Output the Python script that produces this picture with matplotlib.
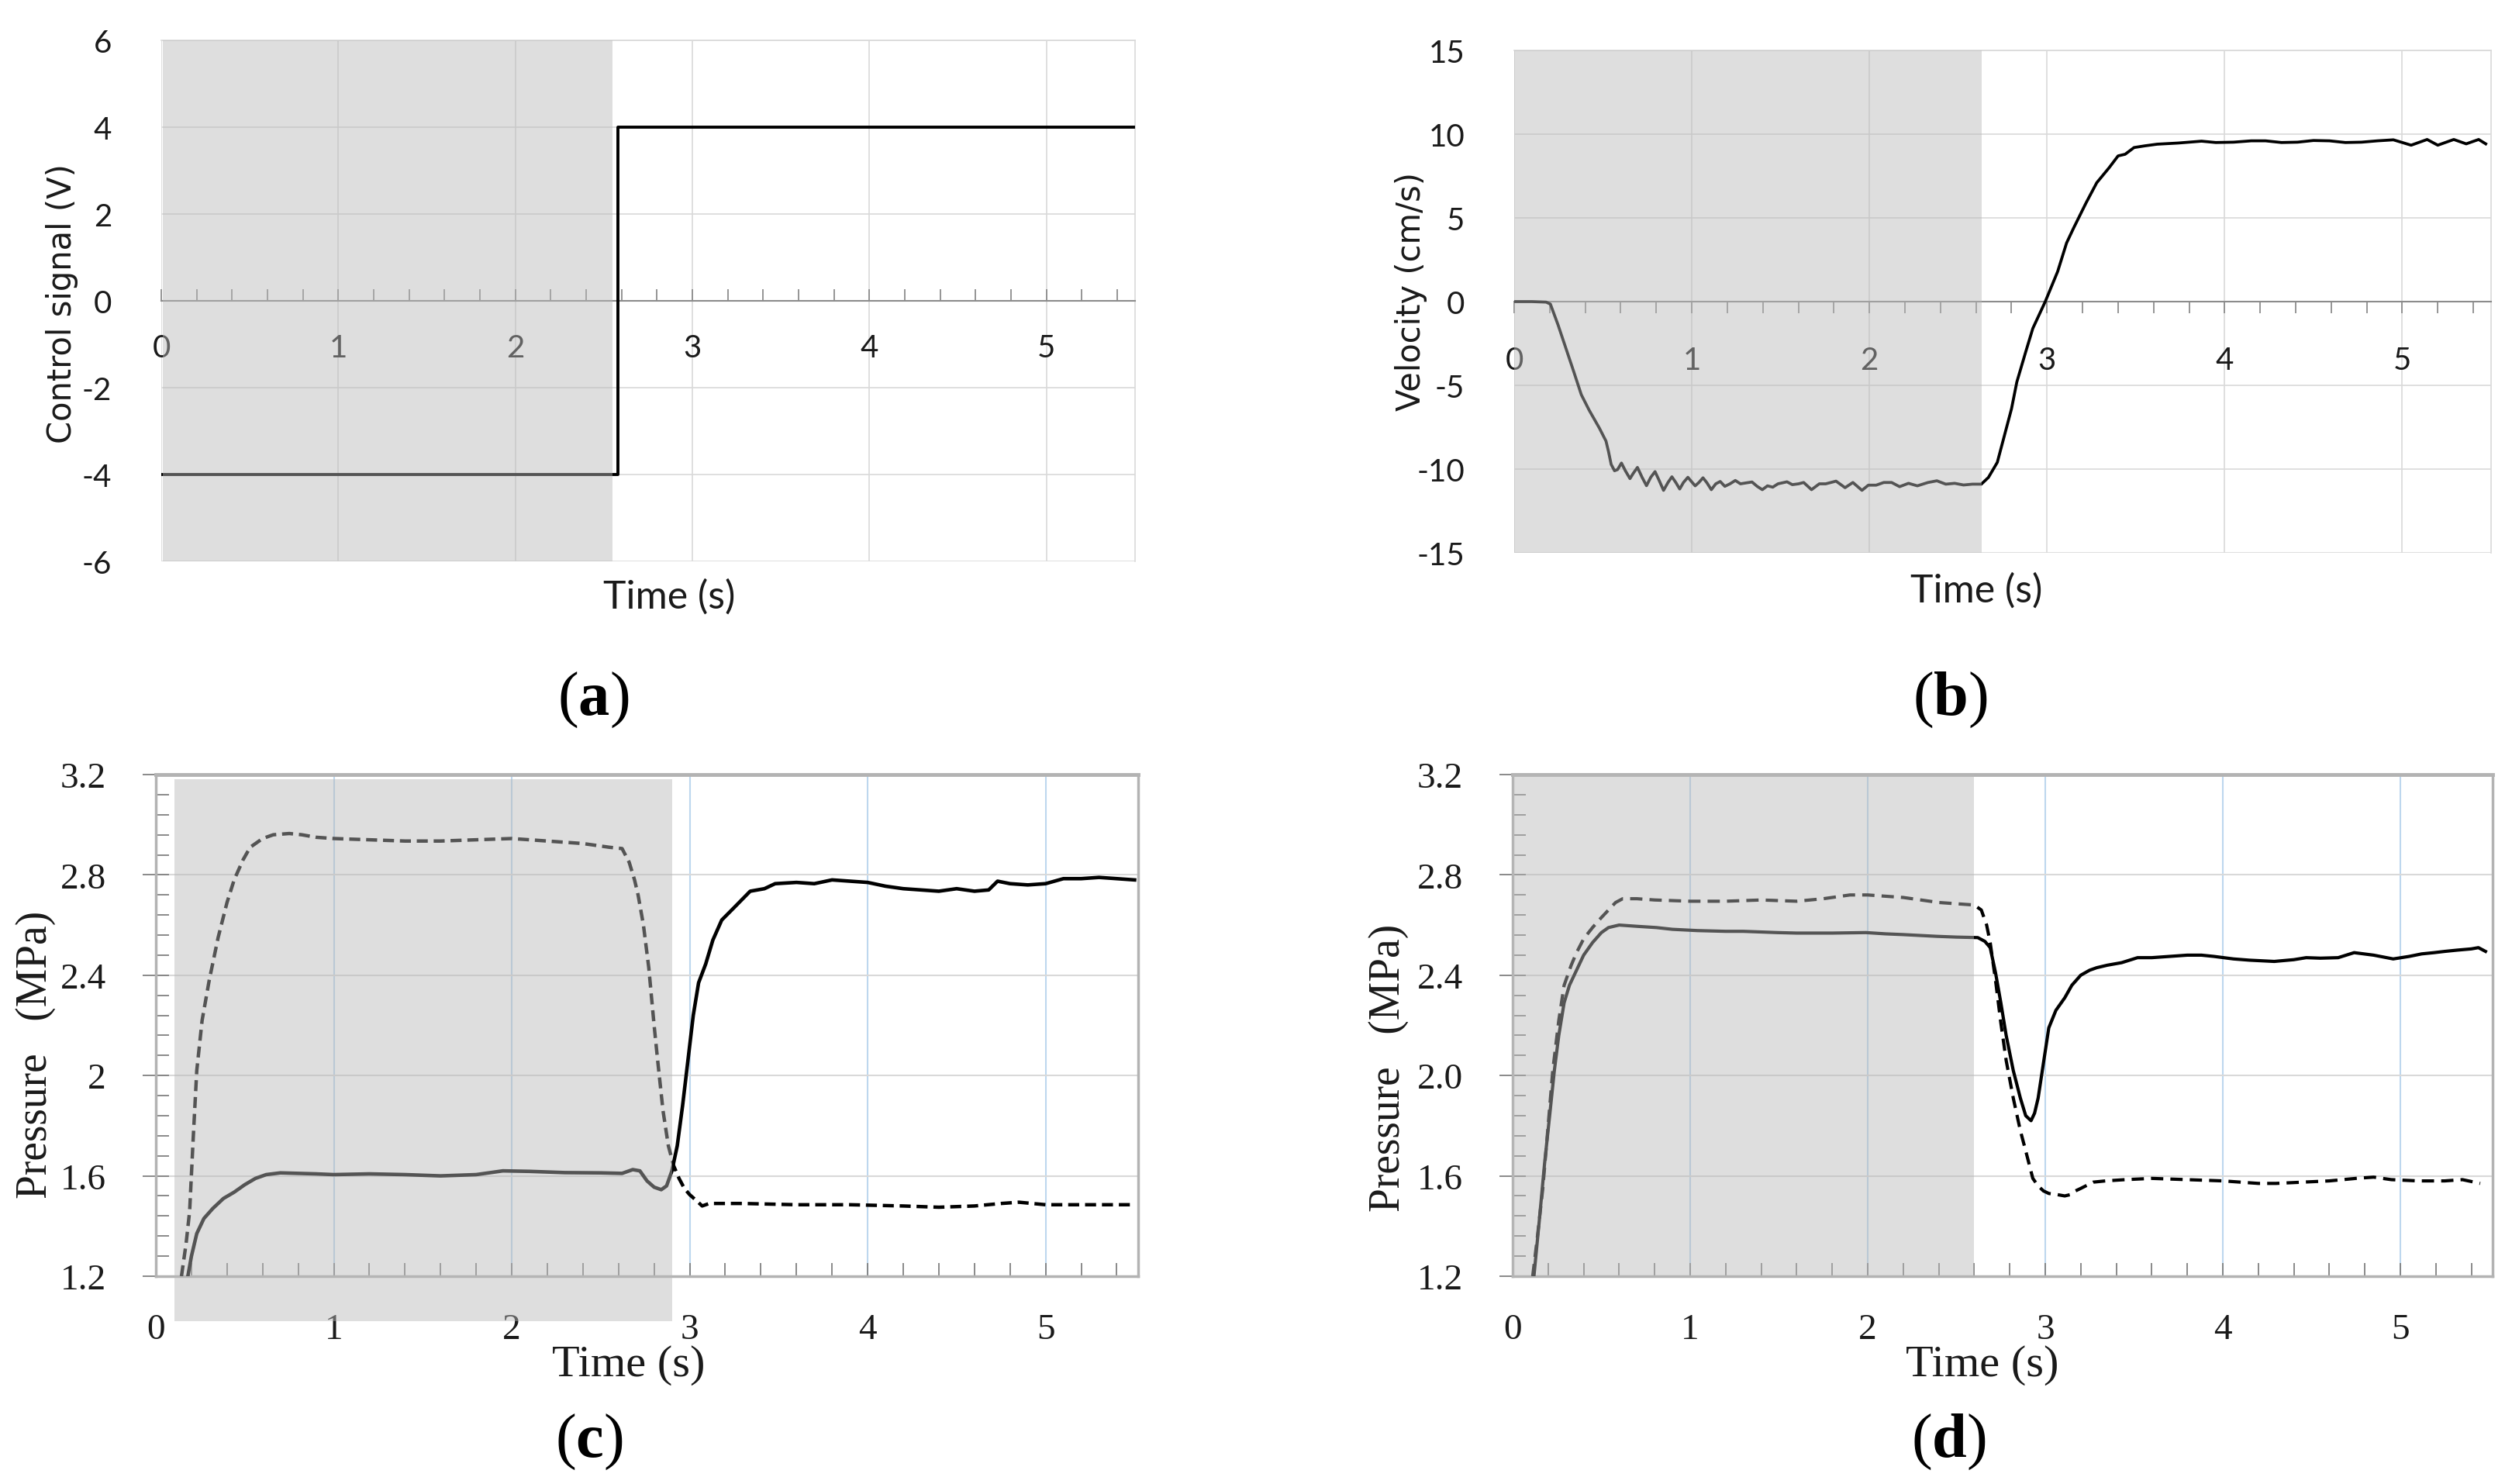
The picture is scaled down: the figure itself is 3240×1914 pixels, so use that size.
import matplotlib
matplotlib.use("Agg")
import matplotlib.pyplot as plt
from matplotlib.patches import Rectangle
from matplotlib.ticker import MultipleLocator

# ---- data ----
# (a) control signal
t_ctrl = [0.0, 2.58, 2.58, 5.49]
u_ctrl = [-4.0, -4.0, 4.0, 4.0]

# (b) velocity
t_vel = [0.0, 0.1, 0.18, 0.204, 0.247, 0.291, 0.335, 0.378, 0.422, 0.48, 0.517, 0.531,
         0.546, 0.565, 0.582, 0.604, 0.626, 0.652, 0.67, 0.694, 0.72, 0.745, 0.769, 0.793,
         0.815, 0.841, 0.866, 0.888, 0.91, 0.932, 0.953, 0.978, 0.997, 1.019, 1.04, 1.063,
         1.084, 1.11, 1.135, 1.16, 1.186, 1.215, 1.245, 1.274, 1.303, 1.339, 1.368, 1.397,
         1.426, 1.456, 1.485, 1.536, 1.566, 1.601, 1.63, 1.674, 1.718, 1.754, 1.812, 1.863,
         1.907, 1.958, 1.994, 2.038, 2.081, 2.125, 2.17, 2.22, 2.27, 2.33, 2.38, 2.43, 2.48,
         2.53, 2.58, 2.63, 2.67, 2.72, 2.76, 2.80, 2.83, 2.88, 2.92, 2.99, 3.06, 3.11, 3.15,
         3.22, 3.28, 3.35, 3.40, 3.44, 3.49, 3.55, 3.62, 3.74, 3.87, 3.95, 4.05, 4.15, 4.23,
         4.32, 4.41, 4.5, 4.59, 4.68, 4.77, 4.86, 4.95, 5.05, 5.14, 5.2, 5.29, 5.36, 5.43, 5.47]
v_vel = [0.0, 0.0, -0.03, -0.15, -1.39, -2.78, -4.17, -5.56, -6.48, -7.56, -8.33, -8.95,
         -9.72, -10.1, -10.03, -9.64, -10.1, -10.57, -10.26, -9.9, -10.49, -10.99, -10.49, -10.15,
         -10.65, -11.27, -10.8, -10.46, -10.8, -11.19, -10.8, -10.49, -10.73, -11.0, -10.8, -10.52,
         -10.8, -11.23, -10.88, -10.74, -11.03, -10.88, -10.68, -10.88, -10.83, -10.77, -11.03, -11.23,
         -11.0, -11.08, -10.88, -10.76, -10.93, -10.88, -10.8, -11.23, -10.88, -10.88, -10.72, -11.11,
         -10.8, -11.27, -10.96, -10.96, -10.8, -10.8, -11.05, -10.85, -11.0, -10.8, -10.7, -10.9, -10.85,
         -10.95, -10.9, -10.9, -10.5, -9.6, -8.0, -6.4, -4.8, -3.0, -1.6, 0.0, 1.8, 3.5, 4.4,
         5.9, 7.1, 8.0, 8.7, 8.8, 9.2, 9.3, 9.4, 9.47, 9.58, 9.5, 9.52, 9.6, 9.6,
         9.5, 9.52, 9.62, 9.6, 9.5, 9.52, 9.6, 9.66, 9.34, 9.68, 9.34, 9.68, 9.42, 9.68, 9.42]

# (c) pressures, solid and dashed chamber
t_c_solid = [0.18, 0.20, 0.23, 0.27, 0.32, 0.38, 0.44, 0.50, 0.56, 0.62, 0.7, 0.8, 0.9, 1.0,
             1.2, 1.4, 1.6, 1.8, 1.95, 2.1, 2.3, 2.5, 2.62, 2.68, 2.72, 2.76, 2.80, 2.84, 2.87,
             2.90, 2.93, 2.96, 2.99, 3.02, 3.05, 3.09, 3.13, 3.18, 3.25, 3.34, 3.42, 3.48, 3.6,
             3.7, 3.8, 3.9, 4.0, 4.1, 4.2, 4.3, 4.4, 4.5, 4.6, 4.68, 4.73, 4.8, 4.9, 5.0, 5.1,
             5.2, 5.3, 5.4, 5.5]
p_c_solid = [1.2, 1.28, 1.37, 1.43, 1.47, 1.51, 1.535, 1.565, 1.59, 1.605, 1.612, 1.61, 1.608, 1.605,
             1.608, 1.605, 1.60, 1.605, 1.62, 1.618, 1.613, 1.612, 1.61, 1.625, 1.62, 1.58, 1.555, 1.545, 1.56,
             1.62, 1.72, 1.88, 2.06, 2.24, 2.37, 2.445, 2.54, 2.62, 2.67, 2.735, 2.745, 2.765, 2.77,
             2.765, 2.78, 2.775, 2.77, 2.755, 2.745, 2.74, 2.735, 2.745, 2.735, 2.74, 2.775, 2.765, 2.76, 2.765, 2.785,
             2.785, 2.79, 2.785, 2.78]
t_c_dash = [0.144, 0.17, 0.19, 0.21, 0.23, 0.26, 0.30, 0.35, 0.40, 0.44, 0.49, 0.53, 0.60, 0.66,
            0.75, 0.82, 0.9, 1.0, 1.2, 1.4, 1.6, 1.8, 2.0, 2.2, 2.4, 2.55, 2.62, 2.66, 2.69, 2.71,
            2.74, 2.77, 2.80, 2.82, 2.85, 2.88, 2.91, 2.94, 2.97, 3.0, 3.04, 3.07, 3.11, 3.3, 3.6,
            3.9, 4.2, 4.4, 4.6, 4.75, 4.85, 5.0, 5.2, 5.5]
p_c_dash = [1.2, 1.33, 1.46, 1.75, 2.02, 2.22, 2.38, 2.55, 2.69, 2.78, 2.86, 2.91, 2.945, 2.96,
            2.965, 2.96, 2.95, 2.945, 2.94, 2.935, 2.935, 2.94, 2.945, 2.935, 2.925, 2.91, 2.905, 2.85, 2.78, 2.72,
            2.60, 2.43, 2.20, 2.06, 1.86, 1.72, 1.64, 1.59, 1.55, 1.525, 1.50, 1.48, 1.49, 1.49, 1.485,
            1.485, 1.48, 1.475, 1.48, 1.49, 1.495, 1.485, 1.485, 1.485]

# (d) pressures, solid and dashed chamber
t_d_solid = [0.12, 0.15, 0.18, 0.21, 0.235, 0.26, 0.29, 0.32, 0.36, 0.40, 0.45, 0.50, 0.54, 0.6,
             0.7, 0.81, 0.9, 1.04, 1.2, 1.3, 1.49, 1.6, 1.8, 1.99, 2.1, 2.2, 2.39, 2.5, 2.62, 2.66,
             2.69, 2.72, 2.75, 2.78, 2.82, 2.86, 2.89, 2.92, 2.94, 2.96, 2.99, 3.02, 3.06, 3.11, 3.15,
             3.2, 3.25, 3.29, 3.35, 3.43, 3.52, 3.6, 3.7, 3.8, 3.88, 3.95, 4.06, 4.15, 4.29, 4.4,
             4.47, 4.55, 4.65, 4.74, 4.85, 4.96, 5.05, 5.12, 5.19, 5.25, 5.32, 5.4, 5.44, 5.48]
p_d_solid = [1.2, 1.42, 1.65, 1.85, 2.02, 2.16, 2.29, 2.36, 2.42, 2.48, 2.53, 2.57, 2.59, 2.60,
             2.595, 2.59, 2.583, 2.578, 2.575, 2.575, 2.57, 2.568, 2.568, 2.57, 2.565, 2.562, 2.555, 2.552, 2.55, 2.535,
             2.51, 2.41, 2.29, 2.16, 2.02, 1.91, 1.84, 1.82, 1.85, 1.91, 2.05, 2.19, 2.26, 2.31, 2.36,
             2.40, 2.42, 2.43, 2.44, 2.45, 2.47, 2.47, 2.475, 2.48, 2.48, 2.475, 2.465, 2.46, 2.455, 2.462,
             2.47, 2.468, 2.47, 2.49, 2.48, 2.465, 2.475, 2.485, 2.49, 2.495, 2.50, 2.505, 2.51, 2.495]
t_d_dash = [0.113, 0.14, 0.17, 0.2, 0.226, 0.26, 0.29, 0.33, 0.36, 0.40, 0.45, 0.50, 0.54, 0.58,
            0.62, 0.7, 0.8, 1.0, 1.2, 1.4, 1.6, 1.75, 1.9, 2.0, 2.1, 2.2, 2.3, 2.4, 2.5, 2.6,
            2.64, 2.67, 2.69, 2.72, 2.75, 2.78, 2.82, 2.86, 2.89, 2.93, 2.96, 2.99, 3.02, 3.07, 3.11,
            3.14, 3.17, 3.2, 3.27, 3.34, 3.45, 3.6, 3.8, 4.0, 4.2, 4.3, 4.45, 4.6, 4.75, 4.85,
            4.95, 5.1, 5.25, 5.35, 5.45]
p_d_dash = [1.2, 1.36, 1.55, 1.8, 2.02, 2.22, 2.36, 2.44, 2.49, 2.545, 2.59, 2.63, 2.66, 2.69,
            2.705, 2.705, 2.70, 2.695, 2.695, 2.70, 2.695, 2.705, 2.72, 2.72, 2.715, 2.71, 2.70, 2.69, 2.685, 2.68,
            2.66, 2.60, 2.53, 2.38, 2.21, 2.06, 1.91, 1.78, 1.70, 1.59, 1.56, 1.54, 1.53, 1.525, 1.52,
            1.525, 1.54, 1.55, 1.575, 1.58, 1.585, 1.59, 1.585, 1.58, 1.57, 1.57, 1.575, 1.58, 1.59, 1.595,
            1.585, 1.58, 1.58, 1.585, 1.57]

# shaded (first half of the stroke) regions: x0, x1, y0, y1
shade_a = (0.01, 2.55, -6, 6)
shade_b = (0.0, 2.63, -15, 15)
shade_c = (0.105, 2.90, 1.02, 3.18)
shade_d = (0.0, 2.60, 1.2, 3.2)

W, H = 3241, 1915
plt.rcParams['mathtext.fontset'] = 'custom'
plt.rcParams['mathtext.rm'] = 'Liberation Serif'
plt.rcParams['mathtext.bf'] = 'Liberation Serif:bold'

fig = plt.figure(figsize=(W / 100, H / 100), dpi=100)


def px_axes(left, top, right, bottom):
    return fig.add_axes([left / W, 1 - bottom / H, (right - left) / W, (bottom - top) / H])


def ftext(x, y, s, **kw):
    fig.text(x / W, 1 - y / H, s, ha='center', va='center', **kw)


def overlay(ax, box, clip=True):
    # translucent grey box drawn on top, so lines/labels under it turn grey
    x0, x1, y0, y1 = box
    r = Rectangle((x0, y0), x1 - x0, y1 - y0, facecolor=(0.72, 0.72, 0.72), alpha=0.46,
                  edgecolor='none', zorder=10, clip_on=clip)
    ax.add_patch(r)


sans_tick = dict(family=['Lato', 'DejaVu Sans'], size=29, color='#1a1a1a')


def excel_style(ax, ylim, ystep, tick_dir):
    ax.set_xlim(0, 5.5)
    ax.set_ylim(*ylim)
    ax.xaxis.set_minor_locator(MultipleLocator(0.2))
    for s in ['top', 'right', 'left']:
        ax.spines[s].set_color('#d9d9d9')
        ax.spines[s].set_linewidth(1.2)
    ax.spines['left'].set_visible(False)
    ax.spines['bottom'].set_position(('data', 0))
    ax.spines['bottom'].set_color('#8c8c8c')
    ax.spines['bottom'].set_linewidth(1.5)
    ax.grid(True, which='major', color='#d9d9d9', linewidth=1.2, zorder=0)
    ax.set_axisbelow(True)
    ax.tick_params(axis='x', which='both', direction=tick_dir, length=11, width=1.3,
                   color='#8c8c8c', pad=30)
    ax.tick_params(axis='y', which='both', length=0, pad=46)
    ax.set_xticks([0, 1, 2, 3, 4, 5])
    ax.set_xticklabels(['0', '1', '2', '3', '4', '5'], **sans_tick)
    yt = list(range(int(ylim[0]), int(ylim[1]) + 1, ystep))
    ax.set_yticks(yt)
    ax.set_yticklabels([str(v) for v in yt], **sans_tick)


# ---- (a) ----
ax_a = px_axes(208, 53, 1464, 725)
ax_a.plot(t_ctrl, u_ctrl, color='black', linewidth=2.8, zorder=3)
excel_style(ax_a, (-6, 6), 2, 'in')
overlay(ax_a, shade_a)
ftext(80, 392, 'Control signal (V)', rotation=90, family='DejaVu Sans', size=30, color='#1a1a1a')
ftext(863, 770, 'Time (s)', family=['Lato', 'DejaVu Sans'], size=36, color='#1a1a1a')

# ---- (b) ----
ax_b = px_axes(1953, 66, 3213, 714)
ax_b.plot(t_vel, v_vel, color='black', linewidth=2.7, zorder=3)
excel_style(ax_b, (-15, 15), 5, 'out')
overlay(ax_b, shade_b)
ftext(1820, 376, 'Velocity (cm/s)', rotation=90, family='DejaVu Sans', size=30, color='#1a1a1a')
ftext(2549, 762, 'Time (s)', family=['Lato', 'DejaVu Sans'], size=36, color='#1a1a1a')

serif_tick = dict(family='Liberation Serif', size=34, color='#1a1a1a')


def pressure_style(ax, ylabels):
    ax.set_xlim(0, 5.52)
    ax.set_ylim(1.2, 3.2)
    ax.xaxis.set_minor_locator(MultipleLocator(0.2))
    ax.yaxis.set_minor_locator(MultipleLocator(0.08))
    for s in ax.spines.values():
        s.set_color('#b3b3b3')
        s.set_linewidth(2.5)
    ax.spines['top'].set_linewidth(3.5)
    ax.yaxis.grid(True, which='major', color='#d9d9d9', linewidth=1.5)
    ax.xaxis.grid(True, which='major', color='#bdd7ee', linewidth=1.5)
    ax.set_axisbelow(True)
    ax.tick_params(axis='x', which='both', direction='in', length=12, width=1.3,
                   color='#808080', pad=34)
    ax.tick_params(axis='y', which='minor', direction='in', length=12, width=1.3, color='#808080')
    ax.tick_params(axis='y', which='major', direction='inout', length=24, width=1.3,
                   color='#808080', pad=34)
    ax.set_xticks([0, 1, 2, 3, 4, 5])
    ax.set_xticklabels(['0', '1', '2', '3', '4', '5'], **serif_tick)
    ax.set_yticks([1.2, 1.6, 2.0, 2.4, 2.8, 3.2])
    ax.set_yticklabels(ylabels, **serif_tick)


# ---- (c) ----
ax_c = px_axes(201, 1000, 1468, 1647)
ax_c.plot(t_c_dash, p_c_dash, color='black', linewidth=3.2, linestyle=(0, (3.2, 1.7)), zorder=3)
ax_c.plot(t_c_solid, p_c_solid, color='black', linewidth=3.3, zorder=3)
pressure_style(ax_c, ['1.2', '1.6', '2', '2.4', '2.8', '3.2'])
overlay(ax_c, shade_c, clip=False)
ftext(46, 1360, 'Pressure   (MPa)', rotation=90, family='Liberation Serif', size=40, color='#1a1a1a')
ftext(811, 1761, 'Time (s)', family='Liberation Serif', size=42, color='#1a1a1a')

# ---- (d) ----
ax_d = px_axes(1951, 1000, 3215, 1647)
ax_d.plot(t_d_dash, p_d_dash, color='black', linewidth=3.0, linestyle=(0, (3.8, 2.2)), zorder=3)
ax_d.plot(t_d_solid, p_d_solid, color='black', linewidth=3.0, zorder=3)
pressure_style(ax_d, ['1.2', '1.6', '2.0', '2.4', '2.8', '3.2'])
overlay(ax_d, shade_d)
ftext(1791, 1377, 'Pressure   (MPa)', rotation=90, family='Liberation Serif', size=40, color='#1a1a1a')
ftext(2557, 1761, 'Time (s)', family='Liberation Serif', size=42, color='#1a1a1a')

# panel letters
for x, y, letter in [(765, 903, 'a'), (2515, 903, 'b'), (760, 1860, 'c'), (2513, 1860, 'd')]:
    ftext(x, y, r'($\mathbf{' + letter + '}$)', family='Liberation Serif', size=58, color='black')

fig.savefig('out.png', dpi=100, facecolor='white')
